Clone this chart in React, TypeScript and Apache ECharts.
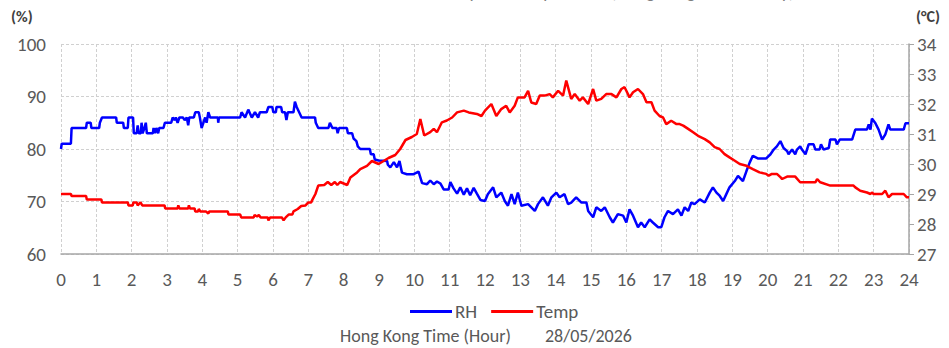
import React, { useEffect, useRef } from "react";
import * as echarts from "echarts";

const hourTicks = Array.from({ length: 25 }, (_, i) => String(i));

const rhHours = [
  0.0, 0.02, 0.28, 0.3, 0.71, 0.73, 0.84, 0.86, 1.08, 1.1, 1.16, 1.56, 1.58, 1.76, 1.78, 1.89, 1.91, 2.04, 2.06, 2.14,
  2.17, 2.2, 2.26, 2.28, 2.31, 2.36, 2.4, 2.43, 2.6, 2.62, 2.66, 2.7, 2.75, 2.78, 2.9, 2.94, 3.12, 3.16, 3.22, 3.25,
  3.3, 3.35, 3.45, 3.5, 3.56, 3.6, 3.63, 3.76, 3.8, 3.9, 3.93, 3.98, 4.08, 4.12, 4.17, 4.22, 4.44, 4.45, 4.47, 5.07,
  5.11, 5.21, 5.3, 5.4, 5.49, 5.58, 5.63, 5.82, 5.87, 5.98, 6.01, 6.08, 6.1, 6.23, 6.26, 6.34, 6.38, 6.42, 6.58, 6.62,
  6.67, 6.74, 6.81, 7.19, 7.21, 7.28, 7.57, 7.61, 7.68, 7.8, 7.83, 7.87, 8.09, 8.12, 8.24, 8.28, 8.36, 8.4, 8.47, 8.74,
  8.77, 8.85, 8.88, 8.99, 9.23, 9.25, 9.32, 9.42, 9.51, 9.58, 9.65, 9.79, 9.98, 10.12, 10.22, 10.36, 10.45, 10.55, 10.64, 10.74,
  10.83, 10.97, 11.02, 11.11, 11.21, 11.3, 11.4, 11.49, 11.58, 11.68, 11.77, 11.87, 12.0, 12.08, 12.23, 12.32, 12.46, 12.56, 12.65, 12.75,
  12.84, 12.93, 13.03, 13.22, 13.41, 13.5, 13.64, 13.78, 13.88, 14.02, 14.11, 14.25, 14.35, 14.44, 14.58, 14.73, 14.87, 14.92, 15.06, 15.15,
  15.29, 15.39, 15.53, 15.62, 15.76, 15.91, 16.0, 16.09, 16.19, 16.33, 16.42, 16.52, 16.66, 16.75, 16.9, 16.99, 17.08, 17.18, 17.32, 17.46,
  17.56, 17.65, 17.75, 17.84, 17.93, 18.08, 18.22, 18.36, 18.45, 18.55, 18.64, 18.74, 18.83, 18.92, 19.07, 19.16, 19.3, 19.4, 19.49, 19.58,
  19.72, 19.96, 20.08, 20.17, 20.26, 20.36, 20.45, 20.55, 20.59, 20.69, 20.78, 20.83, 20.92, 20.97, 21.07, 21.16, 21.3, 21.35, 21.47, 21.51,
  21.58, 21.73, 21.77, 21.92, 21.96, 22.04, 22.39, 22.48, 22.81, 22.86, 22.91, 22.95, 23.05, 23.14, 23.24, 23.33, 23.42, 23.47, 23.85, 23.9,
  24.0,
];
const rhValues = [
  80, 81, 81, 84, 84, 85, 85, 84, 84, 85, 86, 86, 85, 85, 84, 84, 86, 86, 83, 83,
  84.5, 83, 83, 85, 83, 84, 85, 83, 83, 84, 83, 84, 83, 84, 84, 85, 85, 86, 85.5, 86,
  85, 86, 86, 85.5, 86, 84.5, 86, 86, 87, 87, 86, 84, 86, 85, 87, 86, 86, 85, 86, 86,
  87, 86, 87.5, 86, 87, 86, 87, 87, 88, 88, 87, 87, 88, 88, 87, 87, 85.5, 87, 87, 89,
  88, 87, 86, 86, 85, 84, 84, 85, 84, 84, 83, 84, 84, 83, 83, 82, 81.5, 80.5, 80, 80,
  79, 79, 78, 77.8, 77.7, 77, 76.5, 77.5, 76.5, 77.7, 75.5, 75.2, 75.2, 75.7, 73.5, 73.3, 74, 73.3, 73.8, 73.4,
  72.3, 72.3, 73.7, 72.5, 71.5, 72.7, 71.3, 72.5, 71.2, 72.6, 71.5, 70.3, 70.1, 71.4, 72.7, 70.8, 71.7, 70.1, 69.2, 71.4,
  69.5, 71.7, 69.2, 69.5, 68.2, 69.5, 70.8, 69.2, 70.8, 71.7, 70.8, 71.4, 69.5, 69.8, 70.8, 69.8, 69.8, 68.2, 67.0, 68.9,
  68.2, 68.9, 67.0, 66.0, 67.6, 67.3, 66.0, 68.5, 67.3, 65.1, 66.0, 65.1, 66.6, 66.0, 65.1, 65.1, 67.0, 68.2, 67.6, 68.5,
  67.3, 68.9, 68.2, 69.8, 69.5, 70.4, 69.8, 71.7, 72.7, 71.7, 71.1, 70.1, 71.4, 72.7, 73.9, 74.9, 73.9, 75.8, 77.4, 78.7,
  78.2, 78.2, 79, 79.9, 80.5, 81.5, 80.2, 79.6, 79, 79.9, 79, 79.9, 80.5, 79.9, 79, 80.9, 80.9, 79.9, 79.9, 80.9,
  79.9, 80.2, 81.8, 81.8, 80.9, 81.8, 81.8, 83.7, 83.7, 84.7, 83.7, 85.8, 84.9, 83.7, 81.8, 82.8, 84.7, 83.7, 83.7, 84.9,
  84.9,
];

const tempHours = [
  0.0, 0.28, 0.3, 0.71, 0.73, 1.14, 1.16, 1.89, 1.91, 2.03, 2.05, 2.14, 2.17, 2.25, 2.3, 2.93, 2.95, 3.3, 3.32, 3.35,
  3.6, 3.62, 3.65, 3.78, 3.8, 3.88, 3.9, 3.94, 4.1, 4.17, 4.2, 4.72, 4.74, 5.07, 5.1, 5.45, 5.48, 5.55, 5.6, 5.65,
  5.85, 5.87, 5.92, 6.25, 6.3, 6.36, 6.45, 6.55, 6.58, 6.7, 6.8, 6.92, 7.0, 7.08, 7.12, 7.2, 7.28, 7.45, 7.55, 7.65,
  7.75, 7.82, 7.9, 8.0, 8.1, 8.19, 8.38, 8.47, 8.66, 8.8, 8.99, 9.13, 9.27, 9.46, 9.6, 9.75, 9.93, 10.07, 10.17, 10.28,
  10.45, 10.55, 10.64, 10.78, 10.92, 11.07, 11.21, 11.4, 11.54, 11.77, 11.9, 12.0, 12.18, 12.32, 12.46, 12.6, 12.7, 12.84, 12.93, 13.12,
  13.22, 13.31, 13.45, 13.55, 13.69, 13.83, 13.92, 14.07, 14.21, 14.3, 14.44, 14.54, 14.68, 14.77, 14.92, 15.06, 15.15, 15.29, 15.43, 15.58,
  15.72, 15.86, 15.95, 16.0, 16.09, 16.19, 16.33, 16.47, 16.57, 16.71, 16.8, 16.94, 17.04, 17.13, 17.27, 17.42, 17.51, 17.61, 17.75, 17.89,
  18.03, 18.22, 18.36, 18.5, 18.64, 18.78, 18.92, 19.07, 19.21, 19.4, 19.58, 19.77, 19.96, 20.03, 20.12, 20.26, 20.36, 20.41, 20.55, 20.78,
  20.92, 21.35, 21.4, 21.49, 21.77, 22.43, 22.48, 22.62, 22.81, 22.91, 22.95, 23.0, 23.24, 23.33, 23.42, 23.52, 23.85, 23.94, 24.0,
];
const tempValues = [
  29.0, 29.0, 28.93, 28.93, 28.82, 28.82, 28.72, 28.72, 28.62, 28.62, 28.72, 28.72, 28.62, 28.72, 28.62, 28.62, 28.52, 28.52, 28.62, 28.52,
  28.52, 28.62, 28.52, 28.52, 28.42, 28.42, 28.5, 28.42, 28.42, 28.35, 28.42, 28.42, 28.32, 28.32, 28.22, 28.22, 28.3, 28.25, 28.3, 28.22,
  28.22, 28.12, 28.22, 28.22, 28.12, 28.22, 28.32, 28.32, 28.42, 28.5, 28.6, 28.62, 28.72, 28.72, 28.82, 29.0, 29.28, 29.3, 29.4, 29.3,
  29.4, 29.3, 29.4, 29.35, 29.3, 29.55, 29.72, 29.83, 29.94, 30.1, 30.0, 30.1, 30.2, 30.3, 30.5, 30.8, 30.9, 31.0, 31.5, 30.95,
  31.06, 31.17, 31.06, 31.39, 31.45, 31.55, 31.72, 31.78, 31.72, 31.67, 31.6, 31.78, 32.0, 31.6, 31.83, 31.94, 31.72, 31.94, 32.22, 32.22,
  32.44, 32.05, 32.0, 32.28, 32.28, 32.33, 32.22, 32.44, 32.28, 32.78, 32.17, 32.33, 32.11, 32.22, 32.0, 32.5, 32.11, 32.17, 32.33, 32.33,
  32.22, 32.5, 32.56, 32.44, 32.22, 32.39, 32.5, 32.33, 32.06, 32.06, 31.78, 31.6, 31.55, 31.33, 31.44, 31.33, 31.33, 31.28, 31.17, 31.06,
  30.94, 30.83, 30.72, 30.56, 30.5, 30.33, 30.22, 30.11, 30.0, 29.94, 29.83, 29.72, 29.67, 29.61, 29.67, 29.67, 29.56, 29.5, 29.58, 29.58,
  29.39, 29.39, 29.5, 29.39, 29.28, 29.28, 29.22, 29.11, 29.05, 29.0, 29.05, 29.0, 29.0, 29.11, 28.89, 29.0, 29.0, 28.89, 28.89,
];

const FONT = "Carlito, Calibri, Lato, 'Noto Sans', sans-serif";
const GREY = "#595959";

export default function App() {
  const ref = useRef<HTMLDivElement>(null);
  useEffect(() => {
    document.body.style.margin = "0";
    if (!ref.current) return;
    const chart = echarts.init(ref.current, undefined, { renderer: "svg" });
    const rhData = rhHours.map((h, i) => [h, rhValues[i]]);
    const tempData = tempHours.map((h, i) => [h, tempValues[i]]);
    chart.setOption({
      animation: false,
      backgroundColor: "#ffffff",
      textStyle: { fontFamily: FONT },
      title: {
        text: "Time Series of Relative Humidity and Temperature (Hong Kong Observatory)",
        left: 236,
        top: -22,
        textStyle: { fontSize: 18, color: "#7f7f7f", fontWeight: "normal", fontFamily: FONT },
      },
      grid: { left: 61, right: 40, top: 44, bottom: 94, containLabel: false },
      legend: {
        top: 297,
        left: 405,
        itemWidth: 42,
        itemHeight: 3,
        itemGap: 14,
        icon: "rect",
        textStyle: { fontSize: 19, color: GREY, fontFamily: FONT, padding: [0, 0, 0, -2] },
        data: [
          { name: "RH", itemStyle: { color: "#0000ff" } },
          { name: "Temp", itemStyle: { color: "#ff0000" } },
        ],
      },
      xAxis: {
        type: "value",
        min: 0,
        max: 24,
        interval: 1,
        axisLine: { show: true, lineStyle: { color: "#a6a6a6", width: 1.5 } },
        axisTick: { show: false },
        axisLabel: {
          color: GREY,
          fontSize: 19,
          margin: 16,
          fontFamily: FONT,
          formatter: (v: number) => hourTicks[Math.round(v)] ?? "",
        },
        splitLine: { show: true, lineStyle: { color: "#d0d0d0", type: [3, 2], width: 1 } },
      },
      yAxis: [
        {
          type: "value",
          min: 60,
          max: 100,
          interval: 10,
          position: "left",
          axisLine: { show: false },
          axisTick: { show: false },
          axisLabel: { color: GREY, fontSize: 19, margin: 15, fontFamily: FONT },
          splitLine: { show: true, lineStyle: { color: "#d0d0d0", type: [3, 2], width: 1 } },
        },
        {
          type: "value",
          min: 27,
          max: 34,
          interval: 1,
          position: "right",
          axisLine: { show: true, lineStyle: { color: "#a6a6a6", width: 1.5 } },
          axisTick: { show: true, inside: false, length: 5, lineStyle: { color: "#a6a6a6" } },
          axisLabel: { color: GREY, fontSize: 19, margin: 8, fontFamily: FONT },
          splitLine: { show: false },
        },
      ],
      graphic: [
        {
          type: "text",
          left: 11,
          top: 8,
          style: { text: "(%)", fill: "#404040", font: `bold 16px ${FONT}` },
        },
        {
          type: "text",
          left: 916,
          top: 8,
          style: { text: "(°C)", fill: "#404040", font: `bold 16px ${FONT}` },
        },
        {
          type: "text",
          left: 340,
          top: 327,
          style: { text: "Hong Kong Time (Hour)", fill: GREY, font: `18px ${FONT}` },
        },
        {
          type: "text",
          left: 545,
          top: 327,
          style: { text: "28/05/2026", fill: GREY, font: `18px ${FONT}` },
        },
      ],
      series: [
        {
          name: "RH",
          type: "line",
          yAxisIndex: 0,
          showSymbol: false,
          symbol: "none",
          data: rhData,
          lineStyle: { color: "#0000ff", width: 2.5 },
          itemStyle: { color: "#0000ff" },
        },
        {
          name: "Temp",
          type: "line",
          yAxisIndex: 1,
          showSymbol: false,
          symbol: "none",
          data: tempData,
          lineStyle: { color: "#ff0000", width: 2.5 },
          itemStyle: { color: "#ff0000" },
        },
      ],
    });
    return () => chart.dispose();
  }, []);
  return <div ref={ref} style={{ width: 949, height: 348 }} />;
}
